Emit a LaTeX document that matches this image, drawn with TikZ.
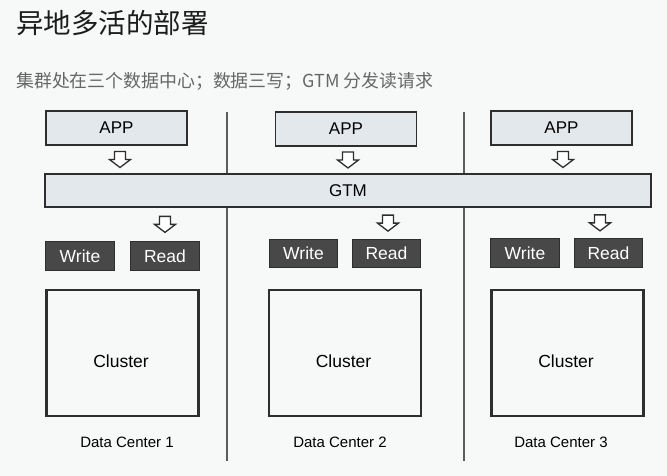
\documentclass[tikz,border=0pt]{standalone}
\usepackage{fontspec}
\setmainfont{Liberation Sans}
\newfontfamily\cjkfont{Noto Sans CJK SC}
\usetikzlibrary{calc}
\definecolor{dcback}{HTML}{F7F9F8}
\definecolor{dcpale}{HTML}{E3E8EC}
\definecolor{dcdark}{HTML}{484848}
\definecolor{dcline}{HTML}{2E2E2E}
\definecolor{dcrule}{HTML}{5C5C5C}
\definecolor{dctitle}{HTML}{1C1C1C}
\definecolor{dcsub}{HTML}{666666}
\tikzset{
  dcbox/.style={draw=dcline,inner sep=0pt,outer sep=0pt,align=center},
  dcapp/.style={dcbox,fill=dcpale,line width=1.6pt,
                minimum width=141pt,minimum height=34pt,
                font=\fontsize{17}{19}\selectfont},
  dcgtm/.style={dcbox,fill=dcpale,line width=1.6pt,
                minimum width=606pt,minimum height=33pt,
                font=\fontsize{17}{19}\selectfont},
  dcop/.style={dcbox,fill=dcdark,line width=1.4pt,text=white,
               minimum width=68.5pt,minimum height=28.5pt,
               font=\fontsize{17.5}{19}\selectfont},
  dccluster/.style={dcbox,fill=dcback,line width=2.2pt,
                    minimum width=152pt,minimum height=126pt},
  dctext/.style={inner sep=0pt,font=\fontsize{17.5}{19}\selectfont},
  dccaption/.style={inner sep=0pt,font=\fontsize{15}{17}\selectfont},
  dcflow/.style={draw=dcline,fill=white,line width=1.3pt,line join=miter},
  dcdivider/.style={draw=dcrule,line width=2pt}
}
% hollow block arrow half-way between two anchors, shifted by #3 in x
\newcommand{\dcflowarrow}[3]{%
  \coordinate (dcmid) at ($(#1)!0.5!(#2)+(#3,0)$);
  \draw[dcflow] ($(dcmid)+(-5.5,-8)$) -- ++(11,0) -- ++(0,8) -- ++(5,0)
    -- ++(-10.5,8) -- ++(-10.5,-8) -- ++(5,0) -- cycle;
}

\begin{document}
\begin{tikzpicture}[x=1pt,y=-1pt]
  \fill[dcback] (0,0) rectangle (667,476);
  \useasboundingbox (0,0) rectangle (667,476);

  \node[anchor=west,inner sep=0pt,text=dctitle,
        font=\cjkfont\fontsize{27.5}{30}\selectfont] (title) at (16,23) {异地多活的部署};
  \node[anchor=west,inner sep=0pt,text=dcsub,
        font=\cjkfont\fontsize{17.9}{20}\selectfont] (subtitle) at (16,81)
    {集群处在三个数据中心；数据三写；GTM 分发读请求};

  % dividers between the data centers
  \coordinate (rule1top) at (227,112);
  \coordinate (rule1bot) at (227,461);
  \coordinate (rule2top) at (464,112);
  \coordinate (rule2bot) at (464,461);
  \draw[dcdivider] (rule1top) -- (rule1bot);
  \draw[dcdivider] (rule2top) -- (rule2bot);

  \node[dcapp] (app1) at (116.5,128) {APP};
  \node[dcapp] (app2) at (346,129) {APP};
  \node[dcapp] (app3) at (561.5,128) {APP};

  \node[dcgtm] (gtm) at (348,190.5) {GTM};

  \node[dcop] (write1) at (80,256) {Write};
  \node[dcop] (read1) at (165,256) {Read};
  \node[dcop] (write2) at (303.5,253.5) {Write};
  \node[dcop] (read2) at (386.5,253.5) {Read};
  \node[dcop] (write3) at (525,253) {Write};
  \node[dcop] (read3) at (608.5,253) {Read};

  \node[dccluster] (cluster1) at (122.5,353) {};
  \node[dccluster] (cluster2) at (345,353) {};
  \node[dccluster] (cluster3) at (567.5,353) {};
  \foreach \i in {1,2,3}{
    \node[dctext] (clustertext\i) at ($(cluster\i)+(-1.5,8)$) {Cluster};
  }

  \node[dccaption] (center1) at (127,442) {Data Center 1};
  \node[dccaption] (center2) at (340,442) {Data Center 2};
  \node[dccaption] (center3) at (561,442) {Data Center 3};

  \foreach \i/\s in {1/3.5,2/2,3/1.5}{
    \dcflowarrow{app\i.south}{app\i.south |- gtm.north}{\s}
  }
  \foreach \i/\s in {1/0,2/1.5,3/-8.5}{
    \dcflowarrow{read\i.north |- gtm.south}{read\i.north}{\s}
  }
\end{tikzpicture}
\end{document}
